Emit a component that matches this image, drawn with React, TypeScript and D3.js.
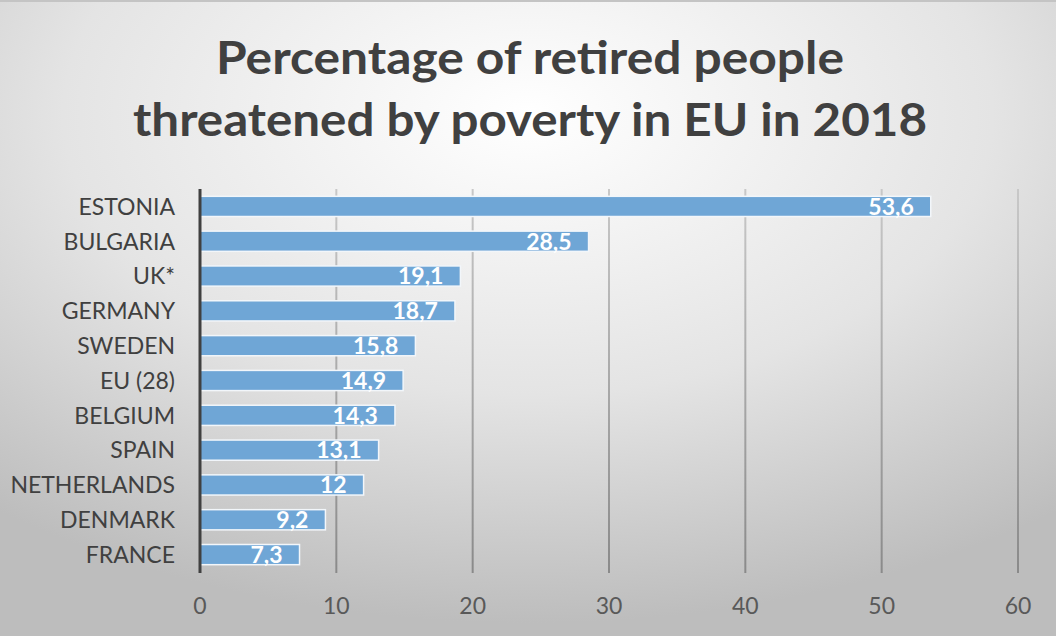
import React from "react";
import * as d3 from "d3";

const categories = ["ESTONIA", "BULGARIA", "UK*", "GERMANY", "SWEDEN", "EU (28)", "BELGIUM", "SPAIN", "NETHERLANDS", "DENMARK", "FRANCE"];
const values = [53.6, 28.5, 19.1, 18.7, 15.8, 14.9, 14.3, 13.1, 12, 9.2, 7.3];
const tickValues = [0, 10, 20, 30, 40, 50, 60];
const titleLines = ["Percentage of retired people", "threatened by poverty in EU in 2018"];

const W = 1056, H = 636;
const M = { left: 200, right: 38, top: 189, bottom: 64 };

export default function App() {
  const x = d3.scaleLinear().domain([0, 60]).range([M.left, W - M.right]);
  const y = d3.scaleBand<string>().domain(categories).range([M.top, H - M.bottom]).paddingInner(0.42).paddingOuter(0.21);
  const fmt = (v: number) => String(v).replace(".", ",");
  const font = "Lato, 'Open Sans', sans-serif";
  return (
    <svg width={W} height={H} style={{ position: "absolute", left: 0, top: 0 }} fontFamily={font}>
      <defs>
        <radialGradient id="bg" cx="50%" cy="18%" r="80%" fx="50%" fy="18%">
          <stop offset="0%" stopColor="#ffffff" />
          <stop offset="55%" stopColor="#e4e4e4" />
          <stop offset="100%" stopColor="#bdbdbd" />
        </radialGradient>
        <linearGradient id="grid" gradientUnits="userSpaceOnUse" x1={0} y1={M.top} x2={0} y2={H - M.bottom}>
          <stop offset="0%" stopColor="#c8c8c8" />
          <stop offset="100%" stopColor="#8a8a8a" />
        </linearGradient>
      </defs>
      <rect x={0} y={0} width={W} height={H} fill="url(#bg)" />
      <line x1={0} x2={W} y1={1} y2={1} stroke="#c4c4c4" strokeWidth={2} />
      {titleLines.map((t, i) => (
        <text key={i} x={530} y={74 + i * 62} textAnchor="middle" fontSize={46} fontWeight="bold" fill="#404040"
          textLength={i === 0 ? 628 : 794} lengthAdjust="spacingAndGlyphs">{t}</text>
      ))}
      {tickValues.slice(1).map((t) => (
        <rect key={t} x={x(t) - 1} y={M.top} width={2} height={H - M.bottom + 1 - M.top} fill="url(#grid)" />
      ))}
      {values.map((v, i) => (
        <rect key={categories[i]} x={x(0)} y={y(categories[i])!} width={x(v) - x(0)} height={y.bandwidth()}
          fill="#6fa6d6" stroke="#f2f6fa" strokeWidth={1.5} />
      ))}
      {values.map((v, i) => (
        <text key={"l" + i} x={x(v) - 17} y={y(categories[i])! + y.bandwidth() / 2} dy="0.36em" textAnchor="end"
          fontSize={23} fontWeight="bold" fill="#ffffff">{fmt(v)}</text>
      ))}
      <line x1={x(0)} x2={x(0)} y1={M.top} y2={H - M.bottom + 1} stroke="#404040" strokeWidth={3} />
      {categories.map((c) => (
        <text key={c} x={175} y={y(c)! + y.bandwidth() / 2} dy="0.36em" textAnchor="end" fontSize={23} fill="#404040">{c}</text>
      ))}
      {tickValues.map((t) => (
        <text key={"t" + t} x={x(t)} y={614} textAnchor="middle" fontSize={23} fill="#595959">{t}</text>
      ))}
    </svg>
  );
}
